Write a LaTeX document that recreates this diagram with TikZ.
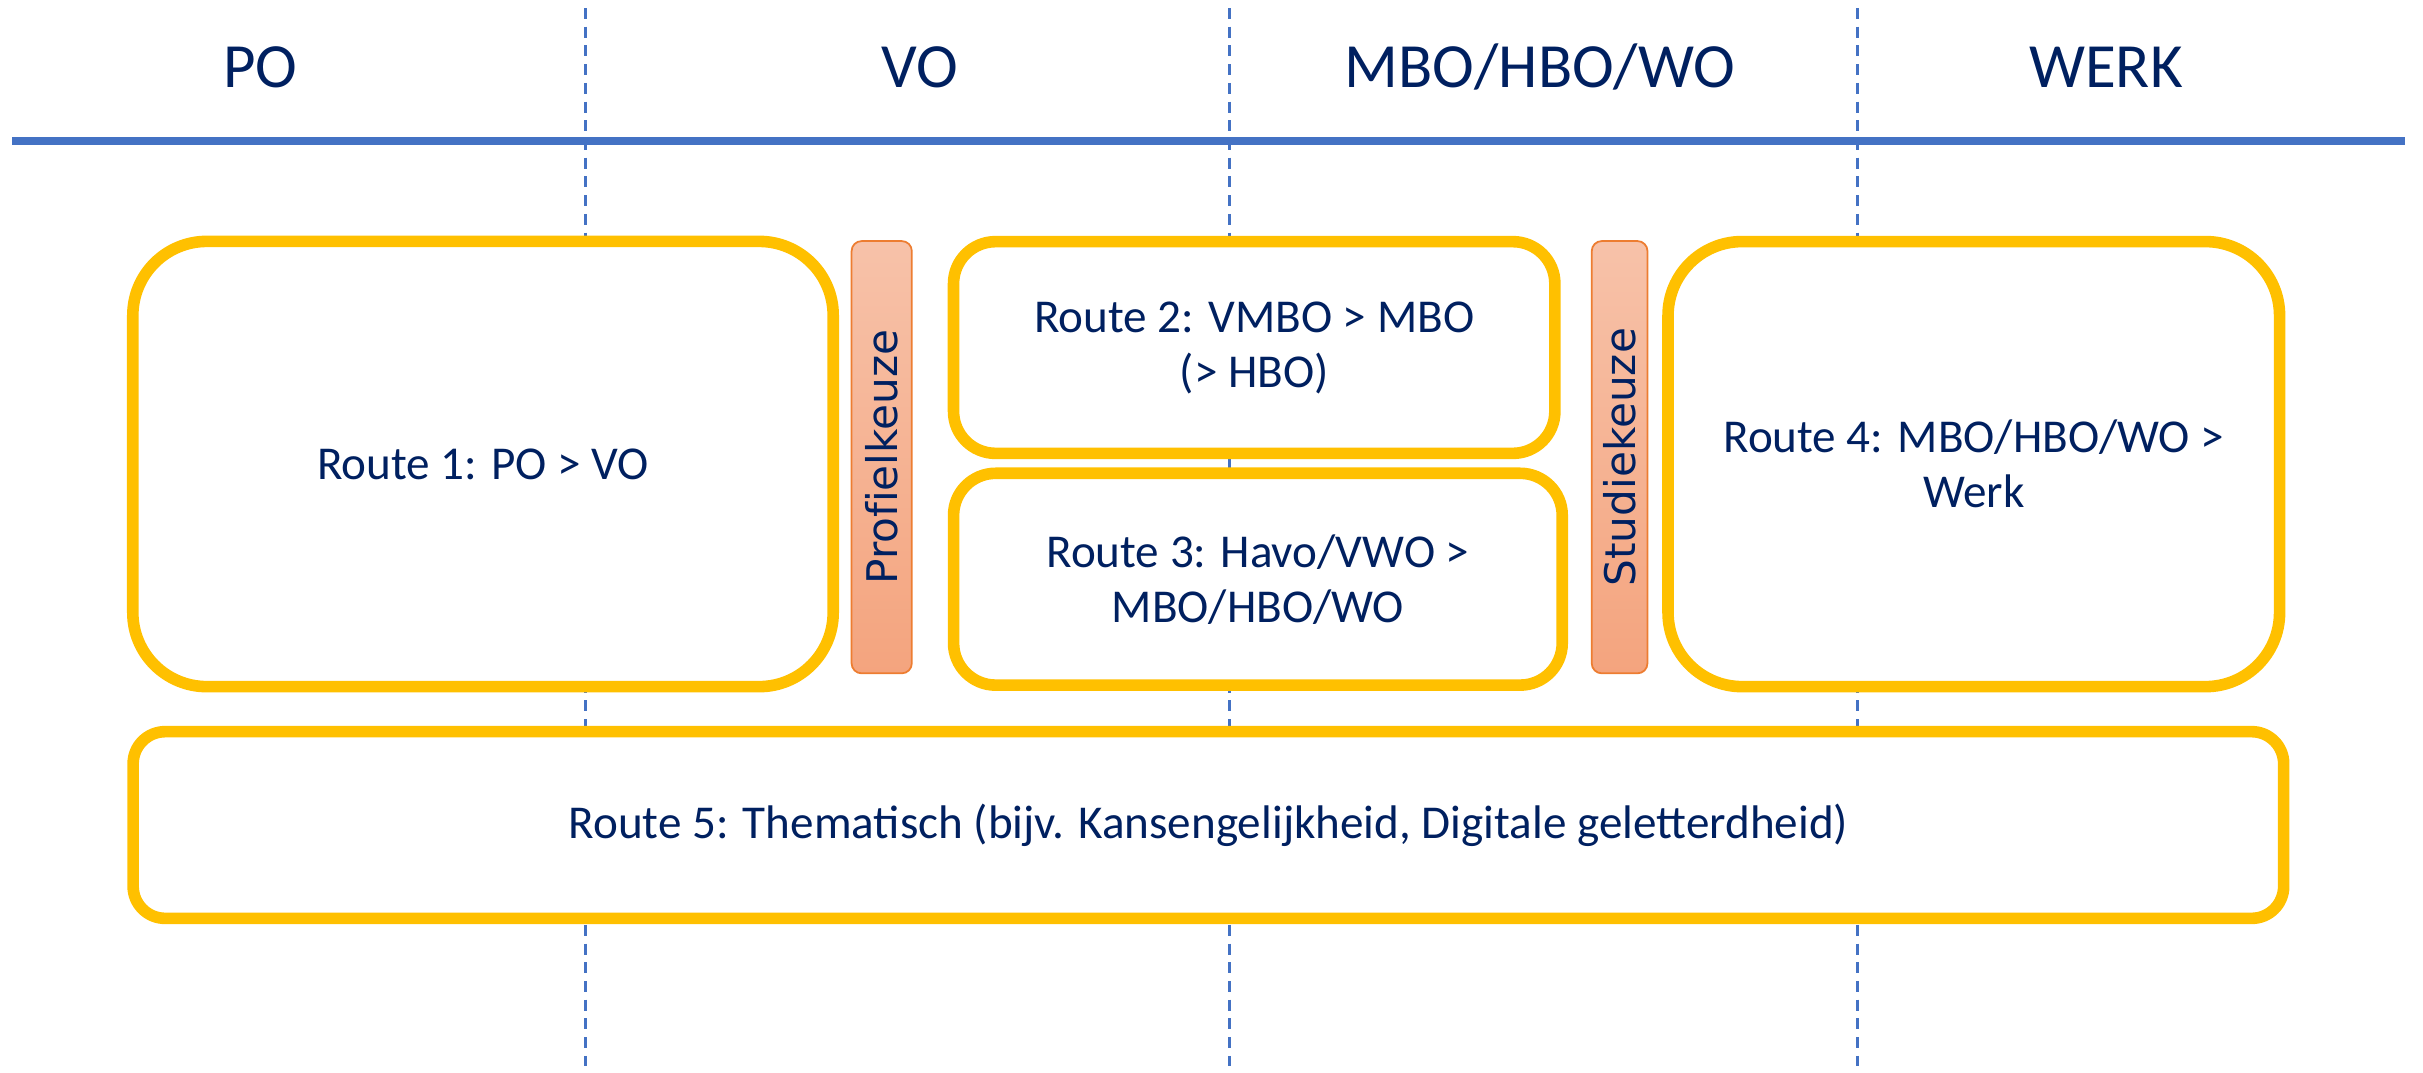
\documentclass[tikz,border=0pt]{standalone}
\usepackage{fontspec}
\setmainfont{Carlito}
\newfontfamily\keuzefont[Ligatures=NoCommon]{DejaVu Sans}
\usepackage{tikz}
\definecolor{routegeel}{HTML}{FFC000}
\definecolor{lijnblauw}{HTML}{4472C4}
\definecolor{tekstblauw}{HTML}{002060}
\definecolor{keuzerand}{HTML}{ED7D31}
\definecolor{keuzelicht}{HTML}{F7C2A9}
\definecolor{keuzedonker}{HTML}{F4A47E}
\tikzset{
	kop/.style={anchor=base, text=tekstblauw, font=\fontsize{17.9}{21}\selectfont},
	route/.style={draw=routegeel, line width=0.116cm, fill=white, text=tekstblauw, align=center, font=\fontsize{13.4}{15.65}\selectfont},
	keuze/.style={draw=keuzerand, line width=0.5pt, rounded corners=0.1cm, rotate=90, top color=keuzelicht, bottom color=keuzedonker, text=tekstblauw, font=\keuzefont\fontsize{12}{14}\selectfont, minimum width=4.32cm, minimum height=0.58cm, inner sep=0pt},
	fase/.style={draw=lijnblauw, line width=0.03cm, dash pattern=on 0.11cm off 0.077cm}
}

\begin{document}
\begin{tikzpicture}[x=0.01cm, y=-0.01cm]
		%%%%% START %%%%%
		\useasboundingbox (0,0) rectangle (2423,1072);
		
		% fasegrenzen
		\foreach \x in {585.7,1229,1857.6}
			\draw[fase] (\x,8) -- (\x,1066);
		\draw[lijnblauw, line width=0.083cm] (12,140.8) -- (2405,140.8);
		
		\node[kop] (po) at (260.5,87) {PO};
		\node[kop] (vo) at (919.6,87) {VO};
		\node[kop] (mbo) at (1540,87) {MBO/HBO/WO};
		\node[kop] (werk) at (2106,87) {WERK};
		
		% routes
		\node[route, rounded corners=0.74cm, minimum width=7cm, minimum height=4.45cm] (r1) at (483,464) {Route 1: PO > VO};
		\node[route, rounded corners=0.42cm, minimum width=6.01cm, minimum height=2.116cm] (r2) at (1254.2,347.5) {Route 2: VMBO > MBO\\(> HBO)};
		\node[route, rounded corners=0.42cm, minimum width=6.083cm, minimum height=2.117cm] (r3) at (1257.9,579.2) {Route 3: Havo/VWO >\\MBO/HBO/WO};
		\node[route, rounded corners=0.74cm, minimum width=6.112cm, minimum height=4.448cm] (r4) at (1973.8,464.1) {Route 4: MBO/HBO/WO >\\Werk};
		\node[route, rounded corners=0.32cm, minimum width=21.493cm, minimum height=1.866cm] (r5) at (1208.4,825) {Route 5: Thematisch (bijv. Kansengelijkheid, Digitale geletterdheid)};
		
		% keuzemomenten
		\node[keuze, minimum height=0.602cm] (profiel) at (881.7,457.2) {Profielkeuze};
		\node[keuze, minimum height=0.557cm] (studie) at (1619.6,457.2) {Studiekeuze};
		%%%%% END %%%%%
	\end{tikzpicture}
\end{document}
